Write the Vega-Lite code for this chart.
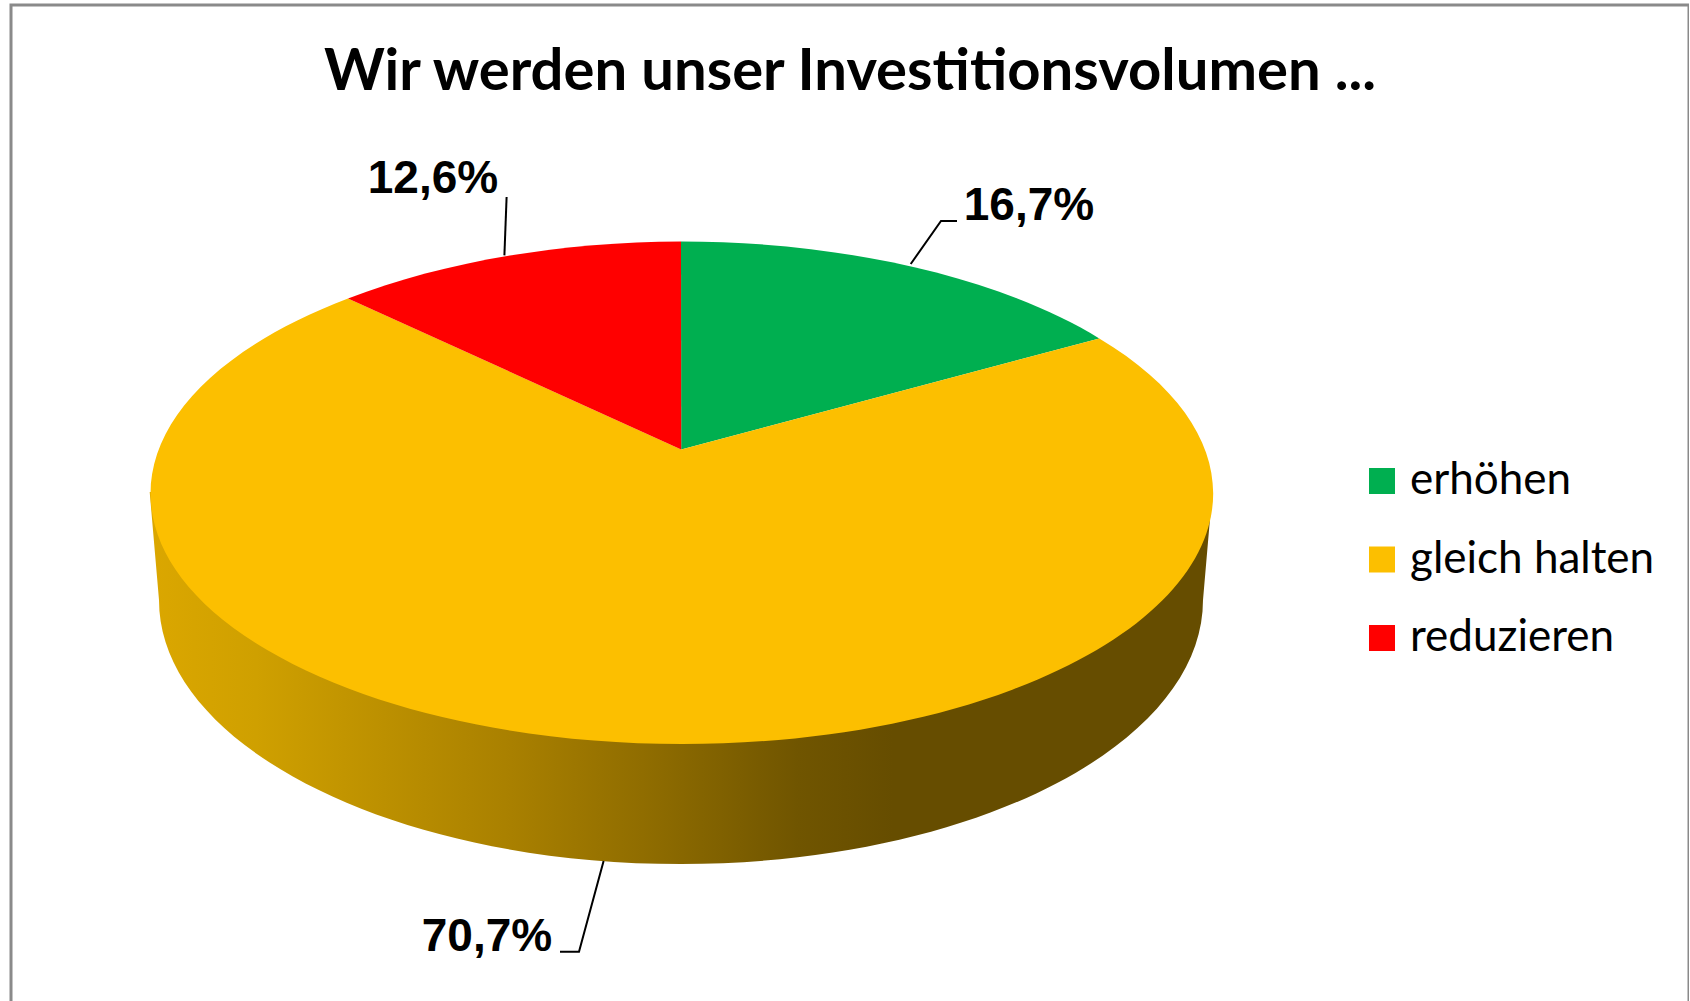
{
"$schema":"https://vega.github.io/schema/vega-lite/v6.json",
"width":1678,"height":1100,
"autosize":{"type":"none"},
"padding":{"left":11,"top":5,"right":0,"bottom":0},
"background":"#ffffff",
"title":{"text":"Wir werden unser Investitionsvolumen ...","font":"Lato","fontSize":58,"fontWeight":"bold","color":"#000000","anchor":"middle","frame":"group","baseline":"alphabetic","offset":-143},
"config":{"view":{"stroke":"#8a8a8a","strokeWidth":3},"font":"Lato"},
"data":{"values":[
{"category":"erhöhen","share":16.7,"label":"16,7%"},
{"category":"gleich halten","share":70.7,"label":"70,7%"},
{"category":"reduzieren","share":12.6,"label":"12,6%"}
]},
"layer":[
{"transform":[{"filter":"datum.category === 'gleich halten'"}],
 "mark":{"type":"point","filled":true,"opacity":1,"strokeWidth":0,"shape":"M362.3 -63 L353 45 A522 264 0 0 1 -691 45 L-700.3 -63 Z","size":4,
  "fill":{"gradient":"linear","x1":0,"y1":0,"x2":1,"y2":0,"stops":[
   {"offset":0,"color":"#DBA700"},{"offset":0.1,"color":"#CFA000"},{"offset":0.34,"color":"#A98000"},{"offset":0.483,"color":"#8C6A00"},{"offset":0.61,"color":"#705500"},{"offset":0.7,"color":"#664D00"},{"offset":1,"color":"#664D00"}]}},
 "encoding":{}},
{"mark":{"type":"point","filled":true,"opacity":1,"strokeWidth":0},
 "encoding":{
  "size":{"value":4},
  "shape":{"field":"category","type":"nominal","legend":null,"scale":{"domain":["erhöhen","gleich halten","reduzieren"],"range":[
    "M-168.8 -105.6 L-169 -313.6 A531.3 250.6 0 0 1 249.3 -216.6 Z",
    "M-168.8 -105.6 L249.3 -216.6 A531.3 250.6 0 1 1 -502 -256.5 Z",
    "M-168.8 -105.6 L-502 -256.5 A531.3 250.6 0 0 1 -169 -313.6 Z"]}},
  "fill":{"field":"category","type":"nominal","scale":{"domain":["erhöhen","gleich halten","reduzieren"],"range":["#00AF50","#FCBF00","#FF0000"]},
   "legend":{"title":null,"orient":"none","legendX":1349,"legendY":454,"padding":0,"symbolType":"square","symbolSize":676,"symbolStrokeWidth":0,"symbolOpacity":1,"labelFont":"Lato","labelFontSize":44,"labelColor":"#000000","labelOffset":6,"rowPadding":34.5,"labelLimit":400}}
 }},
{"mark":{"type":"point","filled":false,"opacity":1,"stroke":"#000000","strokeWidth":2},
 "encoding":{
  "size":{"value":4},
  "shape":{"field":"category","type":"nominal","legend":null,"scale":{"domain":["erhöhen","gleich halten","reduzieren"],"range":[
    "M60.7 -291 L91 -334 L107 -334",
    "M-246.4 306 L-271 396.7 L-290 396.7",
    "M-345.6 -299.6 L-343.4 -358"]}}
 }},
{"mark":{"type":"text","font":"Liberation Sans","fontWeight":"bold","fontSize":46,"color":"#000000","align":"center","baseline":"alphabetic"},
 "encoding":{
  "text":{"field":"label","type":"nominal"},
  "x":{"field":"share","type":"quantitative","axis":null,"scale":{"domain":[12.6,16.7,70.7],"range":[422,1018,476]}},
  "y":{"field":"share","type":"quantitative","axis":null,"scale":{"domain":[12.6,16.7,70.7],"range":[188,215,946]}}
 }}
],
"resolve":{"scale":{"shape":"independent"}}
}
